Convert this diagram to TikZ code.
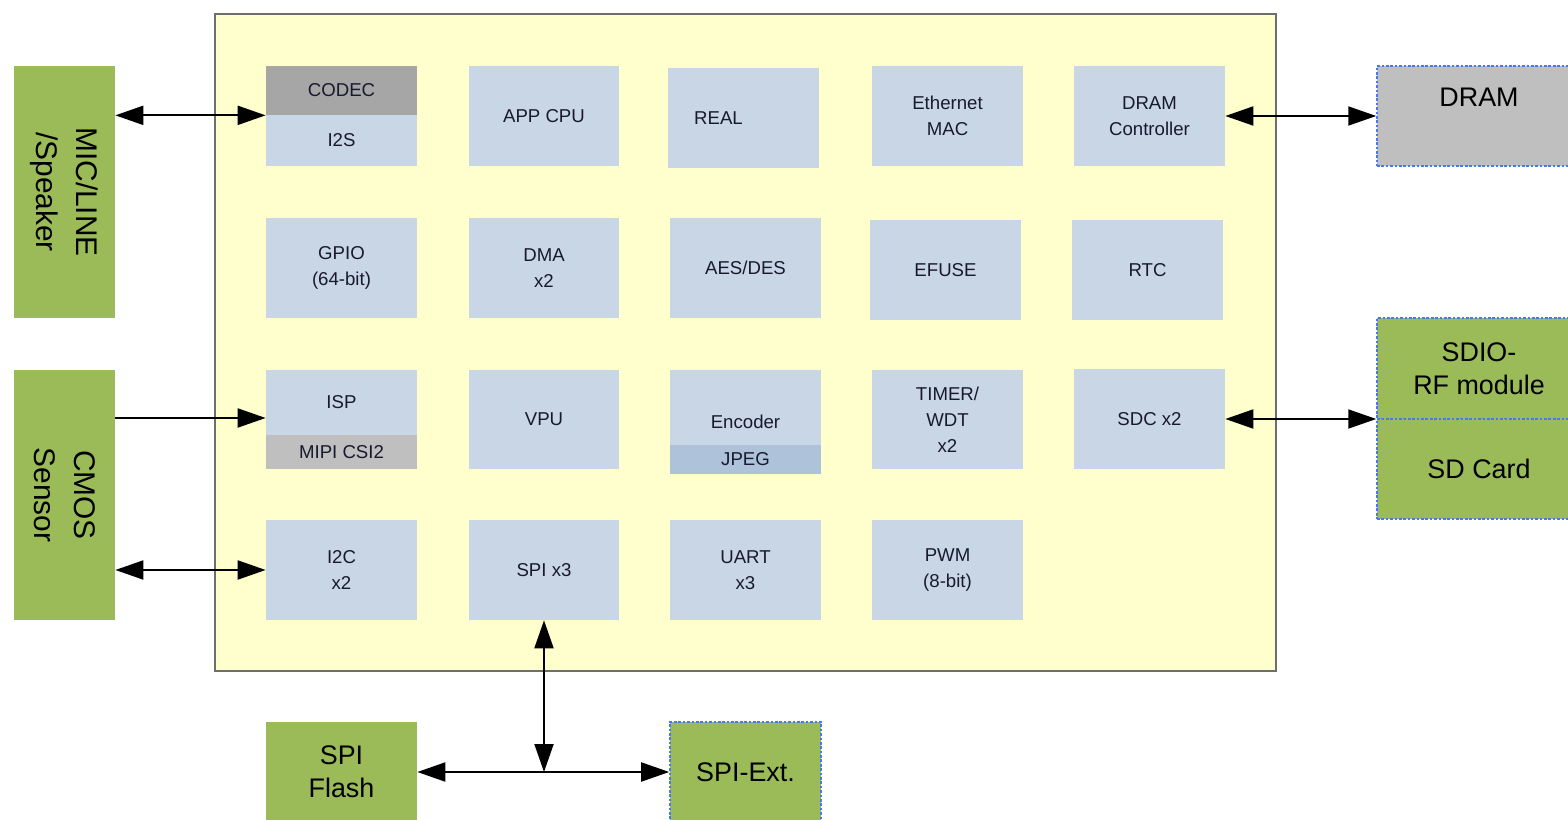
\documentclass[tikz,border=0pt]{standalone}
\usepackage{fontspec}
\setmainfont{Liberation Sans}
\usetikzlibrary{arrows.meta, positioning}
\definecolor{socyellow}{RGB}{255,255,206}
\definecolor{socframe}{RGB}{110,110,110}
\definecolor{blkblue}{RGB}{200,214,230}
\definecolor{jpegblue}{RGB}{174,194,218}
\definecolor{codecgray}{RGB}{166,166,166}
\definecolor{mipigray}{RGB}{191,191,191}
\definecolor{extgreen}{RGB}{155,187,89}
\definecolor{dotblue}{RGB}{70,120,240}
\definecolor{blktext}{RGB}{25,25,45}
\newcommand{\blkfont}{\fontsize{10.6}{14.8}\selectfont}
\newcommand{\extfont}{\fontsize{15.3}{18.7}\selectfont}
\tikzset{
  blk/.style={fill=blkblue, minimum width=3.02cm, minimum height=2cm, inner sep=0pt,
    align=center, text=blktext, font=\blkfont},
  subblk/.style={blk, minimum height=#1},
  ext/.style={fill=extgreen, inner sep=0pt, align=center, font=\extfont},
  extv/.style={ext, rotate=-90, minimum width=5.04cm, minimum height=2.02cm,
    font=\fontsize{17}{22.7}\selectfont},
  dotbox/.style={draw=dotblue, dash pattern=on 1.5pt off 1pt, line width=0.9pt},
  darr/.style={{Triangle[length=0.56cm,width=0.38cm]}-{Triangle[length=0.56cm,width=0.38cm]}, line width=1.1pt},
  sarr/.style={-{Triangle[length=0.56cm,width=0.38cm]}, line width=1.1pt}
}
\begin{document}
\begin{tikzpicture}[x=0.02cm, y=-0.02cm]
\useasboundingbox (0,0) rectangle (1568,820);

% SoC
\node[draw=socframe, line width=1.5pt, fill=socyellow, minimum width=21.22cm,
  minimum height=13.14cm, inner sep=0pt] (soc) at (745.5,342.5) {};

% Row 1
\node[subblk=0.98cm, fill=codecgray] (codec) at (341.5,90.5) {CODEC};
\node[subblk=1.02cm] (i2s) at (341.5,140.5) {I2S};
\node[blk] (appcpu) at (544,116) {APP CPU};
\node[blk] (real) at (743.5,118) {REAL\hspace*{1cm}};
\node[blk] (ethmac) at (947.5,116) {Ethernet\\MAC};
\node[blk] (dramc) at (1149.5,116) {DRAM\\Controller};

% Row 2
\node[blk] (gpio) at (341.5,268) {GPIO\\(64-bit)};
\node[blk] (dma) at (544,268) {DMA\\x2};
\node[blk] (aes) at (745.5,268) {AES/DES};
\node[blk] (efuse) at (945.5,270) {EFUSE};
\node[blk] (rtc) at (1147.5,270) {RTC};

% Row 3
\node[subblk=1.3cm] (isp) at (341.5,402.5) {ISP};
\node[subblk=0.68cm, fill=mipigray] (mipi) at (341.5,452) {MIPI CSI2};
\node[blk] (vpu) at (544,419.5) {VPU};
\node[subblk=2.08cm] (enc) at (745.5,422) {Encoder};
\node[subblk=0.58cm, fill=jpegblue] (jpeg) at (745.5,459.5) {JPEG};
\node[blk] (timer) at (947.5,419.5) {TIMER/\\WDT\\x2};
\node[blk] (sdc) at (1149.5,419) {SDC x2};

% Row 4
\node[blk] (i2c) at (341.5,570) {I2C\\x2};
\node[blk] (spi3) at (544,570) {SPI x3};
\node[blk] (uart) at (745.5,570) {UART\\x3};
\node[blk] (pwm) at (947.5,570) {PWM\\(8-bit)};

% External parts
\node[extv] (mic) at (64.5,192) {MIC/LINE\\/Speaker};
\node[extv, minimum width=5cm] (cmos) at (64.5,495) {CMOS\\Sensor};
\node[ext, dotbox, fill=mipigray, minimum width=4.08cm, minimum height=2cm,
  label={[font=\extfont, anchor=center, yshift=-0.64cm]north:DRAM}] (dram) at (1479,116) {};
\node[ext, dotbox, minimum width=4.08cm, minimum height=2.02cm] (sdio) at (1479,368.5) {SDIO-\\RF module};
\node[ext, dotbox, minimum width=4.08cm, minimum height=2cm] (sdcard) at (1479,469) {SD Card};
\node[ext, minimum width=3.02cm, minimum height=2cm] (spiflash) at (341.5,772) {SPI\\Flash};
\node[ext, dotbox, minimum width=3.02cm, minimum height=2cm] (spiext) at (745.5,772) {SPI-Ext.};

% Connections
\draw[darr] (codec.south west -| mic.north) -- (codec.south west);
\draw[darr] (dramc.east) -- (dramc.east -| dram.west);
\coordinate (ispin) at ([yshift=-0.31cm]isp.west);
\draw[sarr] (ispin -| cmos.north) -- (ispin);
\draw[darr] (i2c.west -| cmos.north) -- (i2c.west);
\draw[darr] (sdc.east) -- (sdc.east -| sdcard.west);
\coordinate (spijn) at (spi3.south |- spiflash.east);
\draw[darr] (spi3.south) -- (spijn);
\draw[darr] (spiflash.east) -- (spiext.west);
\end{tikzpicture}
\end{document}
